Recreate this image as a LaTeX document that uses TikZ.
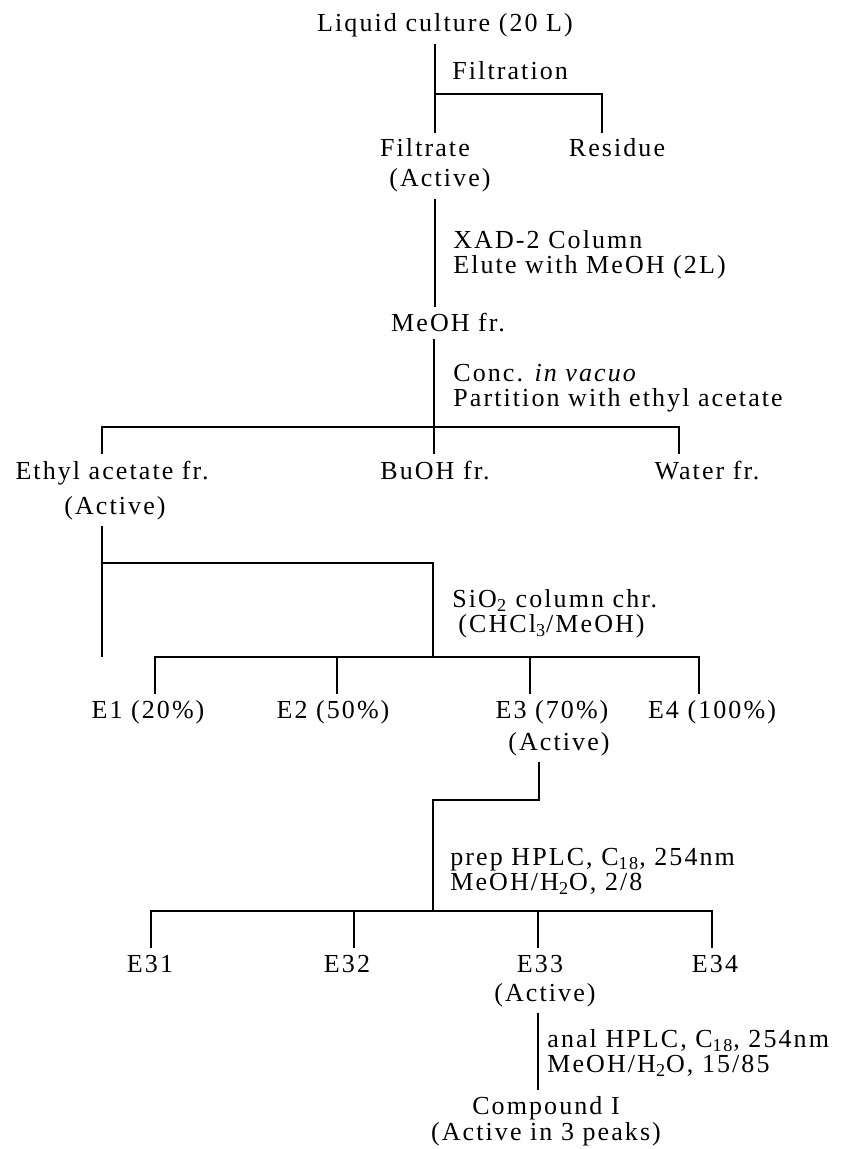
\documentclass[tikz,border=0pt]{standalone}
\usepackage{fontspec}
\setmainfont{Liberation Serif}[LetterSpace=8]
\tikzset{
  lbl/.style={font=\fontsize{13}{11.5}\selectfont, inner sep=3pt, anchor=base},
  note/.style={lbl, font=\fontsize{13}{12.6}\selectfont, anchor=north west, inner sep=0pt, align=left},
  link/.style={line width=0.6pt}
}
\begin{document}
\begin{tikzpicture}[x=0.5pt, y=-0.5pt]
\useasboundingbox (0,0) rectangle (847,1149);
% filtration
\node[lbl] (culture) at (445,32) {Liquid culture (20 L)};
\node[note] (filt) at (452,61) {Filtration};
\node[lbl] (filtrate) at (425,157) {Filtrate};
\node[lbl] (act1) at (440,187) {(Active)};
\node[lbl] (residue) at (617,157) {Residue};
\coordinate (f1) at (435,94);
\coordinate (f2) at (602,94);
\draw[link] (culture.south -| f1) -- (f1 |- filtrate.north);
\draw[link] (f1) -- (f2) -- (f2 |- residue.north);
% XAD-2
\node[note] (xad) at (453,230) {XAD-2 Column\\Elute with MeOH (2L)};
\node[lbl] (meoh) at (448,332) {MeOH fr.};
\draw[link] (act1.south -| f1) -- (f1 |- meoh.north);
% partition
\node[note] (conc) at (453,364) {Conc. \textit{in vacuo}\\Partition with ethyl acetate};
\node[lbl] (ethyl) at (112,479) {Ethyl acetate fr.};
\node[lbl] (act2) at (115,514) {(Active)};
\node[lbl] (buoh) at (435,479) {BuOH fr.};
\node[lbl] (water) at (707,479) {Water fr.};
\coordinate (p0) at (102,427);
\coordinate (p1) at (434,427);
\coordinate (p2) at (679,427);
\draw[link] (meoh.south -| p1) -- (p1 |- buoh.north);
\draw[link] (p0 |- ethyl.north) -- (p0) -- (p2) -- (p2 |- water.north);
% silica column
\node[note] (sio) at (452,589) {SiO\textsubscript{2} column chr.\\\hspace{3pt}(CHCl\textsubscript{3}/MeOH)};
\node[lbl] (e1) at (148,718) {E1 (20\%)};
\node[lbl] (e2) at (333,718) {E2 (50\%)};
\node[lbl] (e3) at (552,718) {E3 (70\%)};
\node[lbl] (e4) at (712,718) {E4 (100\%)};
\node[lbl] (act3) at (559,750) {(Active)};
\coordinate (s0) at (102,563);
\coordinate (s1) at (433,563);
\coordinate (b1) at (155,657);
\coordinate (b2) at (337,657);
\coordinate (b3) at (530,657);
\coordinate (b4) at (699,657);
\draw[link] (act2.south -| s0) -- (s0 |- b1);
\draw[link] (s0) -- (s1) -- (s1 |- b1);
\draw[link] (b1 |- e1.north) -- (b1) -- (b4) -- (b4 |- e4.north);
\draw[link] (b2) -- (b2 |- e2.north);
\draw[link] (b3) -- (b3 |- e3.north);
% prep HPLC
\node[note] (prep) at (450,848) {prep HPLC, C\textsubscript{18}, 254nm\\MeOH/H\textsubscript{2}O, 2/8};
\node[lbl] (e31) at (150,972) {E31};
\node[lbl] (e32) at (347,972) {E32};
\node[lbl] (e33) at (540,972) {E33};
\node[lbl] (e34) at (715,972) {E34};
\node[lbl] (act4) at (545,1001) {(Active)};
\coordinate (h0) at (433,800);
\coordinate (h1) at (539,800);
\coordinate (c1) at (151,911);
\coordinate (c2) at (354,911);
\coordinate (c3) at (538,911);
\coordinate (c4) at (712,911);
\draw[link] (act3.south -| h1) -- (h1) -- (h0) -- (h0 |- c1);
\draw[link] (c1 |- e31.north) -- (c1) -- (c4) -- (c4 |- e34.north);
\draw[link] (c2) -- (c2 |- e32.north);
\draw[link] (c3) -- (c3 |- e33.north);
% anal HPLC
\node[note] (anal) at (547,1029) {anal HPLC, C\textsubscript{18}, 254nm\\MeOH/H\textsubscript{2}O, 15/85};
\node[lbl, anchor=north, align=center] (cmpd) at (546,1090) {Compound I\\(Active in 3 peaks)};
\draw[link] (act4.south -| c3) -- (c3 |- cmpd.north);
\end{tikzpicture}
\end{document}
